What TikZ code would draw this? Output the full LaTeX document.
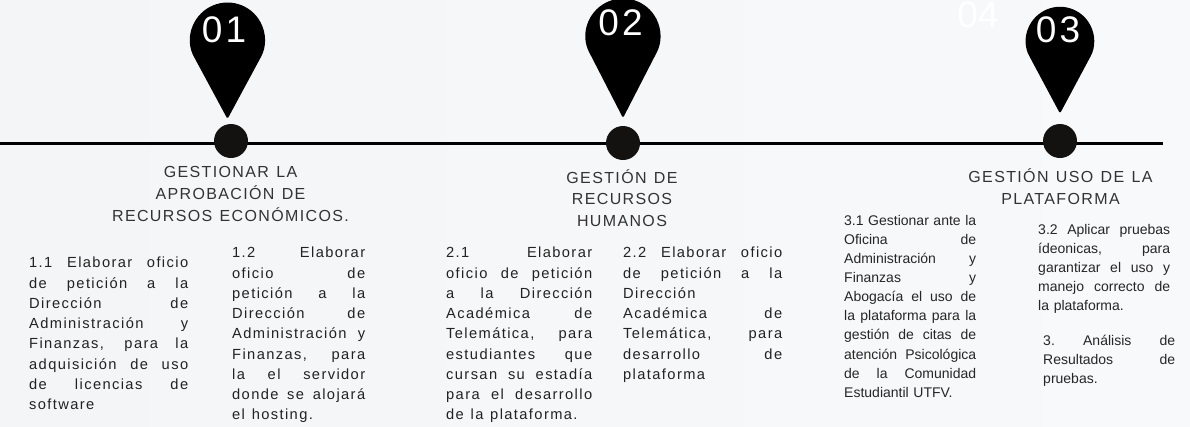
\documentclass[tikz,border=0pt]{standalone}
\usepackage{fontspec}
\setmainfont{Liberation Sans}
\newfontfamily\spacedfont[LetterSpace=9.5]{Liberation Sans}
\newfontfamily\titlefont[LetterSpace=8.5]{Liberation Sans}
\newfontfamily\numfont[LetterSpace=9]{Liberation Sans}
\definecolor{bgl}{HTML}{F4F5F7}
\definecolor{bgr}{HTML}{F8F9FB}
\definecolor{dotc}{HTML}{141210}
\definecolor{titlec}{HTML}{333333}
\definecolor{bodyc}{HTML}{222222}
\newcommand{\J}[1]{\makebox[\hsize][s]{\spaceskip=.3em plus 1fil\relax\xspaceskip=\spaceskip #1}}
\newcommand{\W}{\spaceskip=.46em\relax\xspaceskip=.46em\relax}
\tikzset{
  x=1pt,y=-1pt,
  pinshape/.style={fill=black,draw=none,rounded corners=1.5pt},
  dotnode/.style={circle,fill=dotc,draw=none,minimum size=34pt,inner sep=0pt},
  timeline/.style={draw=black,line width=3pt},
  numlabel/.style={text=white,inner sep=0pt,font={\numfont\fontsize{37}{40}\selectfont}},
  ghostlabel/.style={text=white,inner sep=0pt,font={\fontsize{37}{40}\selectfont}},
  titlebox/.style={text=titlec,inner sep=0pt,align=center,anchor=north,font={\titlefont\fontsize{16}{21.8}\selectfont}},
  bodybox/.style={text=bodyc,inner sep=0pt,anchor=north west,align=left,font={\spacedfont\fontsize{14.67}{20.25}\selectfont}},
  bodyboxb/.style={text=black!85,inner sep=0pt,anchor=north west,align=left,font={\fontsize{14}{19.1}\selectfont}},
}
\newcommand{\pin}[4]{% x, centre y, radius, tip y
  \pgfmathsetmacro{\pa}{asin(#3/(#4-#2))}
  \pgfmathsetmacro{\px}{#3*cos(\pa)}
  \pgfmathsetmacro{\py}{#3*sin(\pa)}
  \fill[pinshape] ({#1-\px},{#2+\py}) arc[start angle={180+\pa},end angle={-\pa},radius=#3pt] -- (#1,#4) -- cycle;
}
\begin{document}
\begin{tikzpicture}
\useasboundingbox (0,0) rectangle (1190,426);
\fill[left color=bgl,right color=bgr] (0,0) rectangle (1190,426);
% pins
\pin{227.5}{40}{37.5}{119}
\pin{623}{36}{37.5}{118}
\pin{1060}{41}{34.2}{113.5}
% timeline
\coordinate (lstart) at (0,143);
\coordinate (lend) at (1163,143);
\draw[timeline] (lstart) -- (lend);
\node[dotnode] (d1) at (231,141) {};
\node[dotnode] (d2) at (623,143) {};
\node[dotnode] (d3) at (1060,141) {};
% numbers
\node[numlabel] (n1) at (224,30) {01};
\node[numlabel] (n2) at (620.5,23) {02};
\node[numlabel] (n3) at (1058,30) {03};
\node[ghostlabel] (n4) at (978,15) {04};
% titles
\node[titlebox] (t1) at (230.5,166.5) {\W GESTIONAR LA\\\W APROBACIÓN DE\\\W RECURSOS ECONÓMICOS.};
\node[titlebox] (t2) at (622,169) {\W GESTIÓN DE\\RECURSOS\\HUMANOS};
\node[titlebox] (t3) at (1060.5,168.5) {\W GESTIÓN USO DE LA\\PLATAFORMA};
% body
\node[bodybox,text width=159pt] (b11) at (29,257) {\J{1.1 Elaborar oficio}\\\J{de petición a la}\\\J{Dirección de}\\\J{Administración y}\\\J{Finanzas, para la}\\\J{adquisición de uso}\\\J{de licencias de}\\software};
\node[bodybox,text width=133pt] (b12) at (232,247) {\J{1.2 Elaborar}\\\J{oficio de}\\\J{petición a la}\\\J{Dirección de}\\\J{Administración y}\\\J{Finanzas, para}\\\J{la el servidor}\\\J{donde se alojará}\\\W el hosting.};
\node[bodybox,text width=146pt] (b21) at (446,247) {\J{2.1 Elaborar}\\\J{oficio de petición}\\\J{a la Dirección}\\\J{Académica de}\\\J{Telemática, para}\\\J{estudiantes que}\\\J{cursan su estadía}\\\J{para el desarrollo}\\\W de la plataforma.};
\node[bodybox,text width=159pt] (b22) at (623,247) {\J{2.2 Elaborar oficio}\\\J{de petición a la}\\Dirección\\\J{Académica de}\\\J{Telemática, para}\\\J{desarrollo de}\\plataforma};
\node[bodyboxb,text width=132pt] (b31) at (844,215) {\J{3.1 Gestionar ante la}\\\J{Oficina de}\\\J{Administración y}\\\J{Finanzas y}\\\J{Abogacía el uso de}\\\J{la plataforma para la}\\\J{gestión de citas de}\\\J{atención Psicológica}\\\J{de la Comunidad}\\Estudiantil UTFV.};
\node[bodyboxb,text width=132pt] (b32) at (1038,224) {\J{3.2 Aplicar pruebas}\\\J{ídeonicas, para}\\\J{garantizar el uso y}\\\J{manejo correcto de}\\la plataforma.};
\node[bodyboxb,text width=132pt] (b33) at (1043,335) {\J{3. Análisis de}\\\J{Resultados de}\\pruebas.};
\end{tikzpicture}
\end{document}
